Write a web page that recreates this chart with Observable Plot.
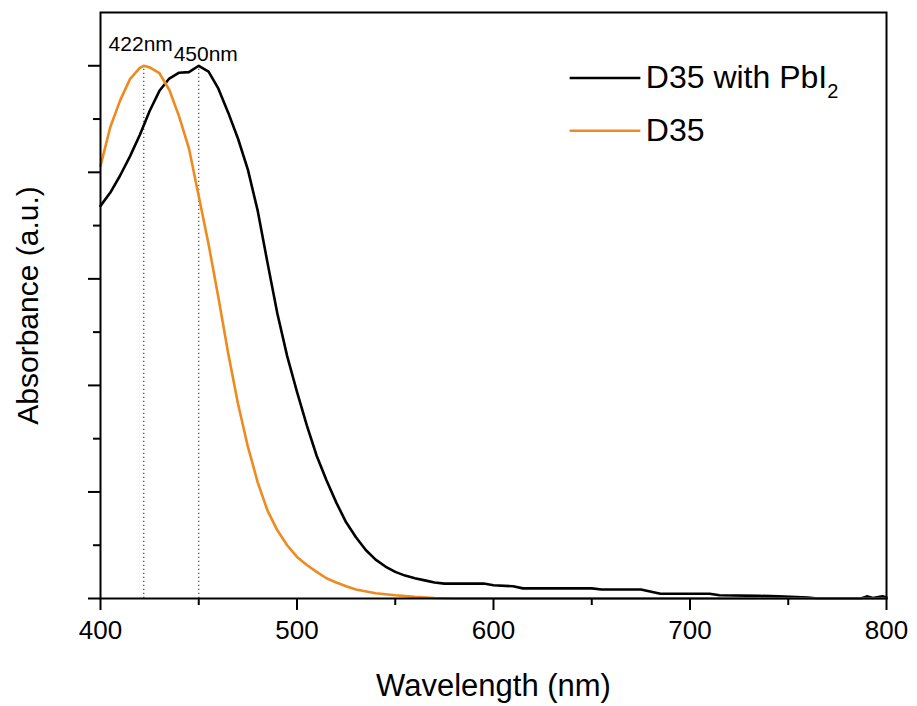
<!DOCTYPE html>
<html>
<head>
<meta charset="utf-8">
<script src="https://cdn.jsdelivr.net/npm/d3@7"></script>
<script src="https://cdn.jsdelivr.net/npm/@observablehq/plot@0.6"></script>
<style>
  html, body { margin: 0; padding: 0; background: #fff; }
  #chart svg { font-family: "Liberation Sans", Arial, sans-serif; }
</style>
</head>
<body>
<div id="chart"></div>
<script>
// ---- data ----
const seriesNames = ["D35 with PbI2", "D35"];
const seriesColors = ["#000000", "#ee8a1f"];

const wavelengthPbI2 = [400, 405, 410, 415, 420, 425, 430, 435, 440, 445, 450, 455, 460, 465, 470, 475, 480, 485, 490, 495, 500, 505, 510, 515, 520, 525, 530, 535, 540, 545, 550, 555, 560, 565, 570, 575, 580, 590, 595, 600, 610, 615, 650, 655, 675, 685, 710, 715, 735, 745, 760, 765, 787, 790, 793, 798, 800];
const absorbPbI2 = [0.737, 0.762, 0.794, 0.830, 0.870, 0.915, 0.953, 0.976, 0.987, 0.988, 1.000, 0.989, 0.957, 0.912, 0.863, 0.805, 0.728, 0.630, 0.535, 0.455, 0.388, 0.325, 0.268, 0.222, 0.180, 0.143, 0.115, 0.091, 0.073, 0.060, 0.050, 0.043, 0.038, 0.034, 0.030, 0.028, 0.028, 0.028, 0.028, 0.025, 0.023, 0.019, 0.019, 0.017, 0.017, 0.009, 0.009, 0.006, 0.005, 0.004, 0.002, 0.000, 0.000, 0.004, 0.001, 0.004, 0.002];

const wavelengthD35 = [400, 405, 410, 415, 420, 422, 425, 430, 435, 440, 445, 450, 455, 460, 465, 470, 475, 480, 485, 490, 495, 500, 505, 510, 515, 520, 525, 530, 540, 550, 560, 570, 580, 600, 650, 700, 750, 800];
const absorbD35 = [0.812, 0.885, 0.935, 0.975, 0.996, 1.000, 0.997, 0.986, 0.955, 0.905, 0.845, 0.755, 0.665, 0.565, 0.460, 0.365, 0.285, 0.218, 0.165, 0.128, 0.100, 0.078, 0.063, 0.050, 0.038, 0.030, 0.023, 0.017, 0.010, 0.006, 0.003, 0.001, 0.000, 0.000, 0.000, 0.000, 0.000, 0.000];

const peakWavelengths = [422, 450];
const peakLabels = ["422nm", "450nm"];
const peakSeries = ["D35", "D35 with PbI2"];

const xMajorTicks = [400, 500, 600, 700, 800];
const xMinorTicks = [450, 550, 650, 750];
const yMajorTicks = [0, 0.2, 0.4, 0.6, 0.8, 1.0];
const yMinorTicks = [0.1, 0.3, 0.5, 0.7, 0.9];

// ---- build tables ----
const rows = [
  ...wavelengthPbI2.map((w, i) => ({series: seriesNames[0], wl: w, a: absorbPbI2[i]})),
  ...wavelengthD35.map((w, i) => ({series: seriesNames[1], wl: w, a: absorbD35[i]}))
];
const peaks = peakWavelengths.map((w, i) => {
  const r = rows.find(d => d.series === peakSeries[i] && d.wl === w);
  return {wl: w, a: r ? r.a : 1, label: peakLabels[i]};
});
const legend = seriesNames.map((name, i) => ({name, y: [0.977, 0.878][i]}));

const chart = Plot.plot({
  width: 917,
  height: 706,
  marginLeft: 100,
  marginRight: 31,
  marginTop: 12,
  marginBottom: 108,
  style: {fontFamily: "'Liberation Sans', Arial, sans-serif", color: "#000", background: "#fff"},
  x: {domain: [400, 800]},
  y: {domain: [0, 1.1]},
  color: {domain: seriesNames, range: seriesColors},
  marks: [
    Plot.ruleX(peaks, {x: "wl", y1: 0, y2: "a", stroke: "#555", strokeWidth: 1.3, strokeDasharray: "1.3,2.7"}),
    Plot.line(rows, {x: "wl", y: "a", z: "series", stroke: "series", strokeWidth: 2.6, strokeLinejoin: "round"}),
    Plot.text(peaks, {x: "wl", y: "a", text: "label", lineAnchor: "bottom", fontSize: 21, fill: "#000"}),
    Plot.axisX({ticks: xMajorTicks, tickSize: 12, tickPadding: 10, strokeWidth: 2, fontSize: 26, tickFormat: d => String(d),
      label: "Wavelength (nm)", labelAnchor: "center", labelArrow: "none", labelOffset: 97}),
    Plot.axisX({ticks: xMinorTicks, tickSize: 7, strokeWidth: 2, tickFormat: () => "", label: null}),
    Plot.axisY({ticks: yMajorTicks, tickSize: 12, strokeWidth: 2, tickFormat: () => "", fontSize: 30,
      label: "Absorbance (a.u.)", labelAnchor: "center", labelArrow: "none", labelOffset: 84}),
    Plot.axisY({ticks: yMinorTicks, tickSize: 7, strokeWidth: 2, tickFormat: () => "", label: null}),
    Plot.frame({stroke: "#000", strokeWidth: 2}),
    Plot.ruleY(legend, {x1: 639, x2: 675, y: "y", stroke: "name", strokeWidth: 2.6}),
    Plot.text(legend, {x: 677.5, y: "y", text: "name", textAnchor: "start", lineAnchor: "middle", fontSize: 32, fill: "#000"})
  ]
});
document.getElementById("chart").appendChild(chart);

// per-label offsets for the peak annotations and label sizes
const svg = d3.select(chart);
svg.selectAll("text").each(function() {
  const t = this.textContent;
  if (t === "422nm") { this.setAttribute("transform", (this.getAttribute("transform") || "") + " translate(-3,-15)"); }
  if (t === "450nm") { this.setAttribute("transform", (this.getAttribute("transform") || "") + " translate(7,-5)"); }
  if (t === "Wavelength (nm)") { this.setAttribute("font-size", 31); }
  if (t === "D35 with PbI2") {
    const node = this;
    while (node.firstChild) node.removeChild(node.firstChild);
    node.appendChild(document.createTextNode("D35 with PbI"));
    const sub = document.createElementNS("http://www.w3.org/2000/svg", "tspan");
    sub.setAttribute("dy", "10");
    sub.setAttribute("font-size", "20");
    sub.textContent = "2";
    node.appendChild(sub);
  }
});
</script>
</body>
</html>
